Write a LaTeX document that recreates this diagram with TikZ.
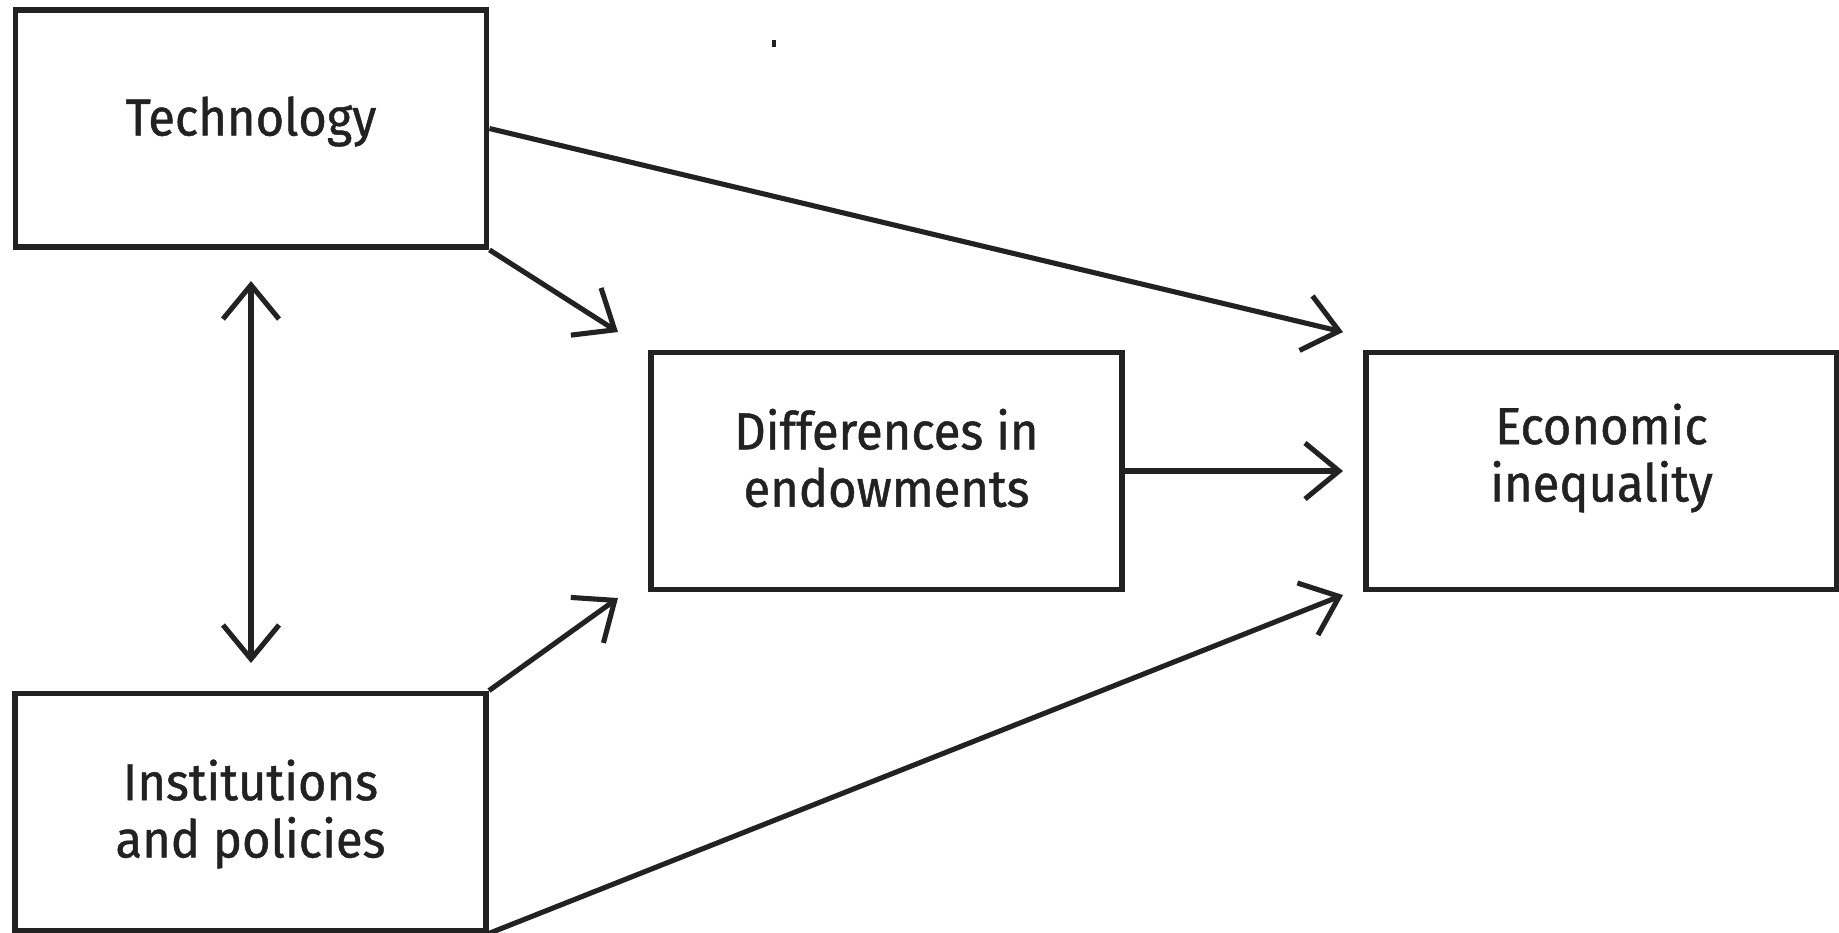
\documentclass[tikz,border=0pt]{standalone}
\usepackage{fontspec}
\setmainfont{Fira Sans}
\newfontfamily\lblfont{Fira Sans}[FakeBold=0.9, FakeStretch=0.94]
\usetikzlibrary{arrows.meta}
\definecolor{ink}{HTML}{222222}
\tikzset{
  barb/.tip={Straight Barb[length=3.4mm,width=5.6mm]},
}
\begin{document}
\begin{tikzpicture}[x=0.01cm,y=-0.01cm,
  box/.style={draw=ink, line width=1.6pt, minimum width=4.71cm, minimum height=2.37cm,
    inner sep=0pt},
  lbl/.style={align=center, text=ink, inner sep=0pt, font=\lblfont\fontsize{14.8}{16.3}\selectfont},
  arr/.style={draw=ink, line width=1.45pt, -barb},
  darr/.style={draw=ink, line width=1.45pt, barb-barb},
]
\useasboundingbox (0,0) rectangle (1839,932);
\fill[white] (0,0) rectangle (1839,932);

\node[box] (tech) at (251,128.5) {};
\node[box] (inst) at (250.5,812) {};
\node[box] (diff) at (886.5,471) {};
\node[box] (econ) at (1601.5,471) {};

\node[lbl] (techL) at ([yshift=0.07cm]tech.center) {Technology};
\node[lbl] (instL) at ([yshift=-0.02cm]inst.center) {Institutions\\and policies};
\node[lbl] (diffL) at ([yshift=0.13cm]diff.center) {Differences in\\endowments};
\node[lbl] (econL) at ([yshift=0.13cm]econ.center) {Economic\\inequality};

\coordinate (t1) at (1343,332);
\coordinate (t2) at (618,332);
\coordinate (t3) at (618,598);
\coordinate (t4) at (1343,595);
\coordinate (t5) at (1343,471);
\coordinate (v1) at (251,281);
\coordinate (v2) at (251,663);

\draw[arr] (tech.east) -- (t1);
\draw[arr] (tech.south east) -- (t2);
\draw[arr] (inst.north east) -- (t3);
\draw[arr] (inst.south east) -- (t4);
\draw[arr] (diff.east) -- (t5);
\draw[darr] (v1) -- (v2);

\fill[ink] (772,40) rectangle (776,47);
\end{tikzpicture}
\end{document}
